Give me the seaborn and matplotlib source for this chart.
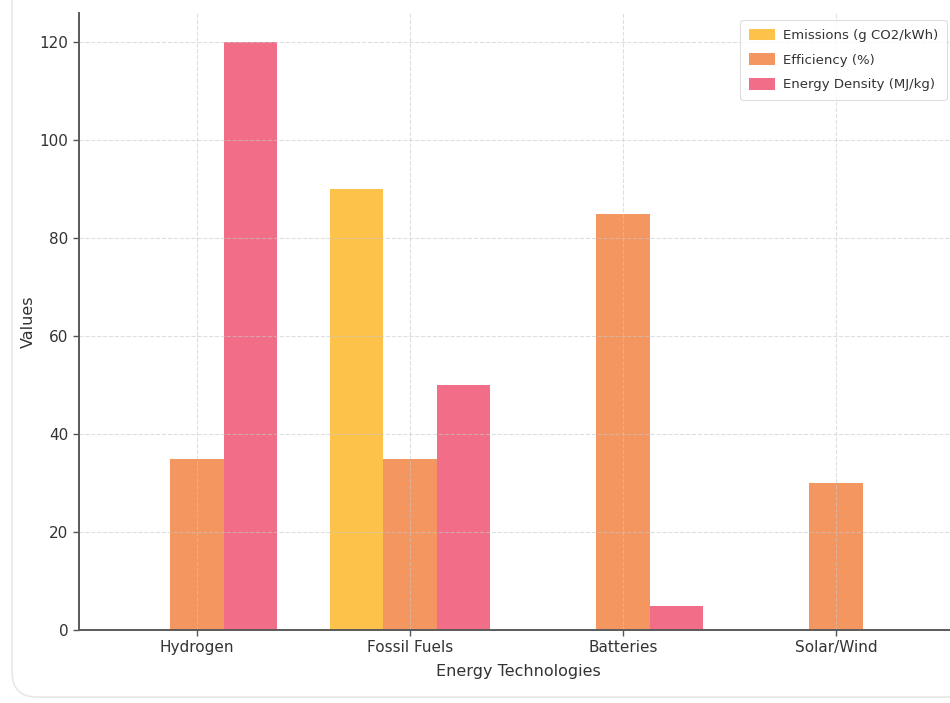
import matplotlib
matplotlib.use("Agg")
import matplotlib.pyplot as plt
from matplotlib.patches import FancyBboxPatch
import seaborn as sns
import pandas as pd

# ---- data ----
technologies = ["Hydrogen", "Fossil Fuels", "Batteries", "Solar/Wind"]
emissions = [0, 90, 0, 0]
efficiency = [35, 35, 85, 30]
energy_density = [120, 50, 5, 0]
metric_names = ["Emissions (g CO2/kWh)", "Efficiency (%)", "Energy Density (MJ/kg)"]
colors = ["#FDC24A", "#F4965F", "#F26E88"]

rows = []
for name, vals in zip(metric_names, [emissions, efficiency, energy_density]):
    for t, v in zip(technologies, vals):
        rows.append({"Technology": t, "Metric": name, "Value": v})
df = pd.DataFrame(rows)

sns.set_style("white")
plt.rcParams["font.family"] = ["DejaVu Sans"]

W, H = 950, 703
fig = plt.figure(figsize=(W / 100, H / 100), dpi=100)

# faint rounded frame of the screenshot
frame = FancyBboxPatch((0.12, 0.06), 12, 12, boxstyle="round,pad=0,rounding_size=0.25",
                       transform=fig.dpi_scale_trans, facecolor="none",
                       edgecolor="#e8e8e8", linewidth=1.2)
fig.patches.append(frame)

ax = fig.add_axes([79 / W, 1 - 630 / H, 878.6 / W, 617.4 / H])
ax.patch.set_alpha(0)

sns.barplot(data=df, x="Technology", y="Value", hue="Metric", hue_order=metric_names,
            order=technologies, palette=colors, width=0.75, saturation=1, ax=ax,
            errorbar=None, linewidth=0)

ax.set_xlim(-0.554, 3.571)
ax.set_ylim(0, 126)
ax.set_yticks([0, 20, 40, 60, 80, 100, 120])

ax.grid(True, linestyle="--", color="#c8c8c8", linewidth=0.8, alpha=0.6)
ax.set_axisbelow(False)
for gl in ax.get_xgridlines() + ax.get_ygridlines():
    gl.set_zorder(3)

for s in ["top", "right"]:
    ax.spines[s].set_visible(False)
for s in ["left", "bottom"]:
    ax.spines[s].set_color("#5a5a5a")
    ax.spines[s].set_linewidth(1.4)
    ax.spines[s].set_zorder(4)

ax.tick_params(axis="both", labelsize=11, colors="#333333", length=4, width=1,
               direction="out", bottom=True, left=True)
ax.tick_params(axis="both", color="#555555")

ax.set_xlabel("Energy Technologies", fontsize=11.5, color="#333333", labelpad=6)
ax.set_ylabel("Values", fontsize=11.5, color="#333333", labelpad=3)

leg = ax.legend(loc="upper right", bbox_to_anchor=(947 / W, 1 - 20 / H),
                bbox_transform=fig.transFigure, borderaxespad=0, fontsize=9.5,
                frameon=True, labelspacing=0.85, handlelength=2.0, handleheight=1.0,
                borderpad=0.65, handletextpad=0.6)
leg.get_frame().set_edgecolor("#d6d6d6")
leg.get_frame().set_linewidth(0.8)
for txt in leg.get_texts():
    txt.set_color("#333333")

fig.savefig("out.png", dpi=100)
